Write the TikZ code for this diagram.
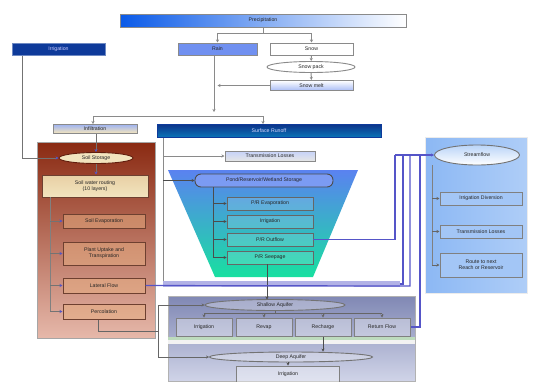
\documentclass[tikz,border=0pt]{standalone}
\usepackage{fontspec}
\setmainfont{Liberation Sans}
\usetikzlibrary{arrows.meta,shapes.geometric}
\definecolor{precblue}{HTML}{0A5AE8}
\definecolor{darkblue}{HTML}{0E3A9A}
\definecolor{rainblue}{HTML}{7090F0}
\definecolor{lineg}{HTML}{8A8A8A}
\definecolor{flowblue}{HTML}{5555C8}
\definecolor{brtop}{HTML}{8A2A12}
\definecolor{brmid}{HTML}{E0904E}
\definecolor{brbot}{HTML}{E6B8AA}
\definecolor{brbox}{HTML}{6E4030}
\definecolor{cream}{HTML}{F2E4BE}
\definecolor{funtop}{HTML}{5A82F0}
\definecolor{funbot}{HTML}{18E0A0}
\definecolor{aqtop}{HTML}{8088B4}
\definecolor{aqbot}{HTML}{D0D4E8}
\definecolor{rptop}{HTML}{8CB8F4}
\definecolor{rpbot}{HTML}{D8F0FC}
\begin{document}
\begin{tikzpicture}[x=1pt,y=-1pt,font=\fontsize{5.2}{5.8}\selectfont,
  box/.style={draw=lineg,line width=1pt,inner sep=0.5pt,align=center,text=black!85},
  brownbox/.style={draw=brbox,line width=1pt,fill=brmid!70!white,fill opacity=0.5,text opacity=1,inner sep=0.5pt,align=center,text=black!85},
  greenbox/.style={draw=black!60,line width=0.9pt,fill=white,fill opacity=0.15,text opacity=1,inner sep=0.5pt,align=center,text=black!85},
  aqbox/.style={draw=black!50,line width=1pt,fill=white,fill opacity=0.35,text opacity=1,inner sep=0.5pt,align=center,text=black!85},
  ell/.style={ellipse,draw=lineg,line width=0.9pt,inner sep=0pt,text=black!85},
  conn/.style={draw=lineg,line width=1pt},
  arr/.style={conn,-{Stealth[length=3pt,width=3pt]}},
  barr/.style={draw=black!55,line width=0.9pt,-{Stealth[length=3pt,width=3pt,color=flowblue]}},
  flow/.style={draw=flowblue,line width=1.2pt}]
\useasboundingbox (0,0) rectangle (533,381);
% ---------- panels ----------
\shade[top color=brtop,middle color=brmid,bottom color=brbot,draw=black!35,line width=0.8pt] (37,142) rectangle (155,338);
\fill[white] (163,137) rectangle (400,282);
\draw[conn] (163,137) -- (163,282);
\fill[flowblue!45] (163,281) rectangle (400,287);
\shade[top color=funtop,bottom color=funbot] (168,170) -- (358,170) -- (313,277) -- (215,277) -- cycle;
\shade[top color=aqtop,bottom color=aqbot,draw=black!30,line width=0.8pt] (168,296) rectangle (415,381);
\fill[green!30!gray!40] (168,337) rectangle (415,340);
\fill[white!90!gray] (168,340) rectangle (415,344);
\shade[left color=rptop,right color=rptop!70!white,draw=white!85!gray,line width=1pt] (425,137) rectangle (527,293);
% ---------- top ----------
\node[box,left color=precblue,right color=white,minimum width=286,minimum height=13] (prec) at (263,20.5) {Precipitation};
\node[box,draw=darkblue!60,fill=darkblue,text=white!80!blue,minimum width=93,minimum height=12] (irr0) at (58.5,49) {Irrigation};
\node[box,fill=rainblue,minimum width=79,minimum height=12] (rain) at (217.5,49) {Rain};
\node[box,fill=white,minimum width=83,minimum height=12] (snow) at (311.5,49) {Snow};
\node[ell,fill=white,minimum width=88,minimum height=11] (snowpack) at (311,67) {Snow pack};
\node[box,top color=white,bottom color=rainblue!60,minimum width=83,minimum height=10] (snowmelt) at (311.5,85.5) {Snow melt};
\node[box,top color=rainblue!70,bottom color=cream,minimum width=84,minimum height=9] (infil) at (95,128.5) {Infiltration};
\node[box,draw=darkblue,top color=darkblue!90!black,bottom color=darkblue!70!cyan,text=white!85!blue,minimum width=224,minimum height=13] (surf) at (269,131) {Surface Runoff};
% ---------- soil panel ----------
\node[ell,draw=brtop!70!black,fill=cream,minimum width=74,minimum height=11] (soilstor) at (96,158) {Soil Storage};
\node[box,draw=brbox,top color=cream!80!brown,bottom color=cream,minimum width=106,minimum height=22] (swr) at (95,186) {Soil water routing\\(10 layers)};
\node[brownbox,minimum width=82,minimum height=14] (soilevap) at (104,221) {Soil Evaporation};
\node[brownbox,minimum width=82,minimum height=23] (plant) at (104,253.5) {Plant Uptake and\\Transpiration};
\node[brownbox,minimum width=82,minimum height=15] (lateral) at (104,285.5) {Lateral Flow};
\node[brownbox,minimum width=82,minimum height=15] (perc) at (104,311.5) {Percolation};
% ---------- pond panel ----------
\node[box,top color=rainblue!40,bottom color=white!80!gray,minimum width=90,minimum height=10] (trans) at (270,156) {Transmission Losses};
\node[draw=black!70,line width=0.9pt,rounded corners=6pt,fill=funtop!80!white,inner sep=0.5pt,text=black!85,minimum width=138,minimum height=13] (pond) at (264,180.5) {Pond/Reservoir/Wetland Storage};
\node[greenbox,minimum width=86,minimum height=13] (prevap) at (270,203.5) {P/R Evaporation};
\node[greenbox,minimum width=86,minimum height=13] (irr2) at (270,221.5) {Irrigation};
\node[greenbox,minimum width=86,minimum height=13] (prout) at (270,239.5) {P/R Outflow};
\node[greenbox,minimum width=86,minimum height=13] (prseep) at (270,257.5) {P/R Seepage};
% ---------- aquifers ----------
\node[ell,draw=black!55,fill=white,fill opacity=0.3,text opacity=1,minimum width=140,minimum height=11] (shallow) at (275,305) {Shallow Aquifer};
\node[aqbox,minimum width=56,minimum height=18] (irr3) at (204,327) {Irrigation};
\node[aqbox,minimum width=56,minimum height=18] (revap) at (264,327) {Revap};
\node[aqbox,minimum width=56,minimum height=18] (recharge) at (323,327) {Recharge};
\node[aqbox,minimum width=56,minimum height=18] (retflow) at (382,327) {Return Flow};
\node[ell,draw=black!55,fill=white,fill opacity=0.3,text opacity=1,minimum width=163,minimum height=10] (deep) at (291,357) {Deep Aquifer};
\node[aqbox,minimum width=103,minimum height=17] (irr4) at (288,374.5) {Irrigation};
% ---------- stream panel ----------
\node[ell,draw=black!55,top color=rptop!60!white,bottom color=white,minimum width=85,minimum height=20] (stream) at (477,155) {Streamflow};
\node[box,draw=black!50,fill=rptop!80!white,minimum width=82,minimum height=13] (irrdiv) at (481,198.5) {Irrigation Diversion};
\node[box,draw=black!50,fill=rptop!80!white,minimum width=82,minimum height=13] (trans2) at (481,231.5) {Transmission Losses};
\node[box,draw=black!50,fill=rptop!80!white,minimum width=82,minimum height=24] (route) at (481,265) {Route to next\\Reach or Reservoir};
% ---------- connectors ----------
\coordinate (j1) at (263,33);
\draw[conn] (prec.south -| j1) -- (j1);
\draw[arr] (j1) -| (rain.north);
\draw[arr] (j1) -| (snow.north);
\draw[arr] (snow) -- (snowpack);
\draw[arr] (snowpack) -- (snowmelt);
\coordinate (j2) at (214,116);
\draw[arr] (snowmelt.west) -- (rain.south |- snowmelt.west);
\draw[arr] ([xshift=-3.5pt]rain.south) -- ([yshift=4pt]j2);
\draw[conn] (j2) -- (93,116);
\draw[arr] (93,116) -- (93,124);
\draw[arr] (j2) -| (263,124);
\draw[barr] (irr0.south -| 22,0) |- (soilstor.west);
\draw[barr] (infil.south -| soilstor) -- (soilstor.north);
\draw[barr] (soilstor.south) -- (swr.north -| soilstor);
\draw[draw=black!50,line width=0.9pt] (50,197) -- (50,311.5);
\foreach \n in {soilevap,plant,lateral,perc} \draw[barr] (50,0 |- \n.west) -- (\n.west);
\draw[conn,draw=black!60] (perc.south -| 98,0) |- (158,331);
\draw[conn,draw=black!60] (158,305) -- (158,357);
\draw[arr,draw=black!60] (158,305) -- (shallow.west);
\draw[arr,draw=black!60] (158,357) -- (deep.west);
\draw[arr] (163,156) -- (trans.west);
\draw[arr,draw=black!70] (163,180.5) -- (pond.west);
\draw[draw=black!70,line width=0.9pt] (213,187) -- (213,257.5);
\foreach \n in {prevap,irr2,prout,prseep} \draw[arr,draw=black!70] (213,0 |- \n.west) -- (\n.west);
\draw[arr,draw=black!70] (267,264) -- (267,299.5);
\draw[draw=black!60,line width=0.9pt] (shallow.south) -- ++(0,3);
\draw[draw=black!60,line width=0.9pt] (204,313.5) -- (382,313.5);
\foreach \n in {irr3,revap,recharge,retflow} \draw[arr,draw=black!60] (\n.north |- 0,313.5) -- (\n.north);
\draw[arr,draw=black!70] (recharge.south) -- (recharge.south |- deep.north);
\draw[arr,draw=black!70] (deep.south -| irr4) -- (irr4.north);
\draw[draw=black!50,line width=0.9pt] (432,165) -- (432,265);
\foreach \n in {irrdiv,trans2,route} \draw[arr,draw=black!60] (432,0 |- \n.west) -- (\n.west);
% blue flows to streamflow
\draw[flow] (prout.east) -- (395,239.5) -- (395,155);
\draw[flow] (400,284) -- (403,284) -- (403,155);
\draw[flow] (lateral.east) -- (410,286) -- (410,155);
\draw[flow] (retflow.east) -- (420,327) -- (420,155);
\draw[flow,-{Stealth[length=3pt,width=3pt]}] (395,155) -- (stream.west);
\end{tikzpicture}
\end{document}
